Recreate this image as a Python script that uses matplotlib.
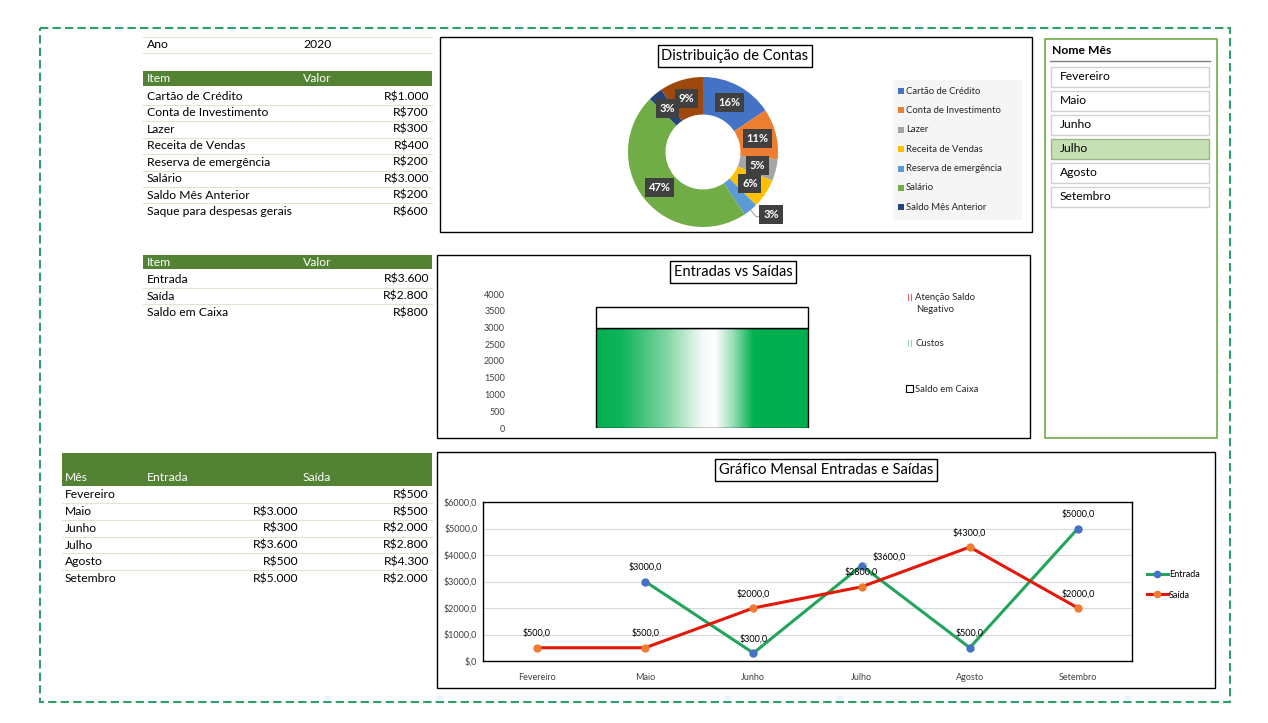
#import drawing modules
import numpy as np
import matplotlib
matplotlib.use('Agg')
import matplotlib.pyplot as plt
from matplotlib.patches import Rectangle
from matplotlib.colors import LinearSegmentedColormap

plt.rcParams['font.family'] = ['Lato', 'DejaVu Sans']

#figure size in pixels
W, H = 1268, 723

#data of the tables and charts
ano = 2020
itens = ['Cartão de Crédito', 'Conta de Investimento', 'Lazer', 'Receita de Vendas',
         'Reserva de emergência', 'Salário', 'Saldo Mês Anterior', 'Saque para despesas gerais']
valores = [1000, 700, 300, 400, 200, 3000, 200, 600]
cores_pizza = ['#4472C4', '#ED7D31', '#A5A5A5', '#FFC000', '#5B9BD5', '#70AD47', '#264478', '#9E480E']

resumo_itens = ['Entrada', 'Saída', 'Saldo em Caixa']
resumo_valores = [3600, 2800, 800]

#stacked bar of the "Entradas vs Saidas" chart
barra_custos = 3000
barra_saldo = 600

meses = ['Fevereiro', 'Maio', 'Junho', 'Julho', 'Agosto', 'Setembro']
entrada = [np.nan, 3000, 300, 3600, 500, 5000]
saida = [500, 500, 2000, 2800, 4300, 2000]
mes_selecionado = 'Julho'


def reais(v):
    return 'R$' + f'{v:,.0f}'.replace(',', '.')


def caixa(x0, y0, x1, y1):
    #pixel box -> figure fraction
    return [x0 / W, 1 - y1 / H, (x1 - x0) / W, (y1 - y0) / H]


fig = plt.figure(figsize=(W / 100, H / 100), dpi=100)
fig.patch.set_facecolor('white')

#background axes in pixel coordinates
bg = fig.add_axes([0, 0, 1, 1])
bg.set_xlim(0, W)
bg.set_ylim(H, 0)
bg.axis('off')

sep = '#DCE6D4'
verde_cab = '#548235'
fs = 8.7

#dashed border
bg.add_patch(Rectangle((40, 28), 1190, 674, fill=False, ec='#2E9E6B', ls=(0, (4, 2)), lw=1.5))

#table: ano
bg.plot([143, 432], [37, 37], color=sep, lw=0.8)
bg.text(147, 45, 'Ano', va='center', fontsize=fs)
bg.text(303, 45, str(ano), va='center', fontsize=fs)
bg.plot([143, 432], [53, 53], color=sep, lw=0.8)

#table: itens
bg.add_patch(Rectangle((143, 71), 289, 15, color=verde_cab, lw=0))
bg.text(147, 78.5, 'Item', va='center', color='white', fontsize=fs)
bg.text(303, 78.5, 'Valor', va='center', color='white', fontsize=fs)
for i, (n, v) in enumerate(zip(itens, valores)):
    y = 96.5 + i * 16.45
    bg.text(147, y, n, va='center', fontsize=fs)
    bg.text(429, y, reais(v), va='center', ha='right', fontsize=fs)
    if i < len(itens) - 1:
        bg.plot([143, 432], [y + 8.2, y + 8.2], color=sep, lw=0.8)

#table: resumo
bg.add_patch(Rectangle((143, 255), 289, 14, color=verde_cab, lw=0))
bg.text(147, 262, 'Item', va='center', color='white', fontsize=fs)
bg.text(303, 262, 'Valor', va='center', color='white', fontsize=fs)
for i, (n, v) in enumerate(zip(resumo_itens, resumo_valores)):
    y = 279.5 + i * 16.5
    bg.text(147, y, n, va='center', fontsize=fs)
    bg.text(429, y, reais(v), va='center', ha='right', fontsize=fs)
    if i < len(resumo_itens) - 1:
        bg.plot([143, 432], [y + 8.2, y + 8.2], color=sep, lw=0.8)

#table: meses
bg.add_patch(Rectangle((62, 453), 370, 33, color=verde_cab, lw=0))
bg.text(65, 477.5, 'Mês', va='center', color='white', fontsize=fs)
bg.text(147, 477.5, 'Entrada', va='center', color='white', fontsize=fs)
bg.text(303, 477.5, 'Saída', va='center', color='white', fontsize=fs)
for i, m in enumerate(meses):
    y = 495 + i * 16.7
    bg.text(65, y, m, va='center', fontsize=fs)
    if not np.isnan(entrada[i]):
        bg.text(298, y, reais(entrada[i]), va='center', ha='right', fontsize=fs)
    bg.text(429, y, reais(saida[i]), va='center', ha='right', fontsize=fs)
    if i < len(meses) - 1:
        bg.plot([62, 432], [y + 8.3, y + 8.3], color=sep, lw=0.8)

#slicer
bg.add_patch(Rectangle((1045, 39), 172, 399, fc='white', ec='#70AD47', lw=1.2))
bg.text(1052, 50, 'Nome Mês', va='center', fontsize=fs, fontweight='bold')
bg.plot([1050, 1210], [61, 61], color='#7F7F7F', lw=1)
for i, m in enumerate(meses):
    y0 = 67 + i * 24
    sel = m == mes_selecionado
    bg.add_patch(Rectangle((1051, y0), 158, 20, fc='#C6E0B4' if sel else 'white',
                           ec='#9BB58A' if sel else '#D0D0D0', lw=1))
    bg.text(1060, y0 + 10, m, va='center', fontsize=fs)

tit = dict(boxstyle='square,pad=0.25', fc='white', ec='black', lw=1)

#donut chart
bg.add_patch(Rectangle((440, 37), 592, 195, fc='white', ec='black', lw=1))
bg.text(735, 56, 'Distribuição de Contas', ha='center', va='center', fontsize=10.5, bbox=tit)
bg.add_patch(Rectangle((893, 80), 129, 140, fc='#F5F5F5', ec='none'))
for i in range(7):
    y = 91 + i * 19.4
    bg.add_patch(Rectangle((898, y - 3), 6, 6, color=cores_pizza[i], lw=0))
    bg.text(906, y, itens[i], va='center', fontsize=6.8, color='#262626')

axp = fig.add_axes(caixa(628, 77, 778, 227))
axp.pie(valores, colors=cores_pizza, startangle=90, counterclock=False, radius=1,
        wedgeprops=dict(width=0.5, linewidth=0))
axp.set_xlim(-1, 1)
axp.set_ylim(-1, 1)
total = sum(valores)
acum = 0
for i, v in enumerate(valores):
    f = v / total
    meio = 90 - 360 * (acum + f / 2)
    acum += f
    r, ang = 0.75, meio
    if i == 4:
        #small slice: label outside with a leader line
        r, ang = 1.23, meio + 8
        a0 = np.radians(meio)
        t = np.radians(ang)
        axp.plot([np.cos(a0), 1.12 * np.cos(a0), r * np.cos(t)],
                 [np.sin(a0), 1.12 * np.sin(a0), r * np.sin(t)],
                 color='#8C8C8C', lw=0.6, clip_on=False, zorder=1)
    t = np.radians(ang)
    axp.text(r * np.cos(t), r * np.sin(t), f'{round(100 * f)}%', ha='center', va='center',
             color='white', fontsize=8, fontweight='bold', zorder=5,
             bbox=dict(boxstyle='square,pad=0.35', fc='#404040', ec='none'))

#bar chart
bg.add_patch(Rectangle((437, 255), 593, 183, fc='white', ec='black', lw=1))
bg.text(733, 272, 'Entradas vs Saídas', ha='center', va='center', fontsize=10.5, bbox=tit)
axb = fig.add_axes(caixa(512, 294, 892, 428))
axb.set_facecolor('none')
largura = 0.558
b1 = axb.bar(0, barra_custos, width=largura, color='none', edgecolor='black', lw=1, zorder=3)
axb.bar(0, barra_saldo, bottom=barra_custos, width=largura, color='white', edgecolor='black', lw=1, zorder=3)
grad_cmap = LinearSegmentedColormap.from_list('g', [
    (0.0, '#00B050'), (0.12, '#10B45A'), (0.33, '#7ED6A3'), (0.5, '#F4FBF7'),
    (0.56, '#FFFFFF'), (0.64, '#9FE0BA'), (0.74, '#00B050'), (1.0, '#00B050')])
img = axb.imshow(np.linspace(0, 1, 256)[None, :], cmap=grad_cmap, aspect='auto',
                 extent=[-largura / 2, largura / 2, 0, barra_custos], zorder=2)
img.set_clip_path(b1.patches[0])
axb.set_xlim(-0.5, 0.5)
axb.set_ylim(0, 4000)
axb.set_yticks(np.arange(0, 4001, 500))
axb.tick_params(axis='y', length=0, labelsize=6.5, pad=5, labelcolor='#404040')
axb.set_xticks([])
for s in axb.spines.values():
    s.set_visible(False)

#legend of the bar chart
for c, y in [('#E06666', 297), ('#8FD9AE', 343)]:
    bg.plot([908, 908], [y - 3, y + 3], color=c, lw=0.8)
    bg.plot([910.5, 910.5], [y - 3, y + 3], color=c, lw=0.8)
bg.text(915, 297, 'Atenção Saldo', va='center', fontsize=6.8, color='#262626')
bg.text(916, 309, 'Negativo', va='center', fontsize=6.8, color='#262626')
bg.text(915, 343, 'Custos', va='center', fontsize=6.8, color='#262626')
bg.add_patch(Rectangle((906, 385), 7, 7, fc='white', ec='black', lw=0.8))
bg.text(915, 389, 'Saldo em Caixa', va='center', fontsize=6.8, color='#262626')

#line chart
bg.add_patch(Rectangle((437, 452), 778, 236, fc='white', ec='black', lw=1))
bg.text(826, 470, 'Gráfico Mensal Entradas e Saídas', ha='center', va='center', fontsize=10.5, bbox=tit)
axl = fig.add_axes(caixa(483, 502, 1132, 661))
x = np.arange(len(meses))
axl.plot(x, entrada, color='#22A45A', lw=2.2, marker='o', ms=5, mfc='#4472C4', mec='#4472C4',
         label='Entrada', zorder=3)
axl.plot(x, saida, color='#E3170A', lw=2.2, marker='o', ms=5, mfc='#ED7D31', mec='#ED7D31',
         label='Saída', zorder=4)
for i in range(len(meses)):
    if not np.isnan(entrada[i]):
        if meses[i] == 'Julho':
            axl.annotate(f'${entrada[i]:.0f},0', (x[i], entrada[i]), xytext=(8, 3),
                         textcoords='offset points', ha='left', va='bottom', fontsize=6.5,
                         arrowprops=dict(arrowstyle='-', color='#A6A6A6', lw=0.6))
        else:
            axl.annotate(f'${entrada[i]:.0f},0', (x[i], entrada[i]), xytext=(0, 7),
                         textcoords='offset points', ha='center', va='bottom', fontsize=6.5)
    axl.annotate(f'${saida[i]:.0f},0', (x[i], saida[i]), xytext=(0, 7),
                 textcoords='offset points', ha='center', va='bottom', fontsize=6.5)
axl.set_xlim(-0.5, len(meses) - 0.5)
axl.set_ylim(0, 6000)
axl.set_yticks(np.arange(0, 6001, 1000))
axl.set_yticklabels(['$,0'] + [f'${v},0' for v in range(1000, 6001, 1000)])
axl.set_xticks(x)
axl.set_xticklabels(meses)
axl.tick_params(length=0, labelsize=6.5, labelcolor='#404040')
axl.tick_params(axis='x', pad=9)
axl.tick_params(axis='y', pad=4)
axl.grid(axis='y', color='#D9D9D9', lw=0.8)
axl.set_axisbelow(True)
for s in axl.spines.values():
    s.set_color('black')
    s.set_linewidth(1)
axl.legend(loc='center left', bbox_to_anchor=(1.01, 0.48), frameon=False, fontsize=6.5,
           handlelength=2.4, handletextpad=0.1, labelspacing=1.3, markerscale=0.9)

fig.savefig('out.png', dpi=100)
